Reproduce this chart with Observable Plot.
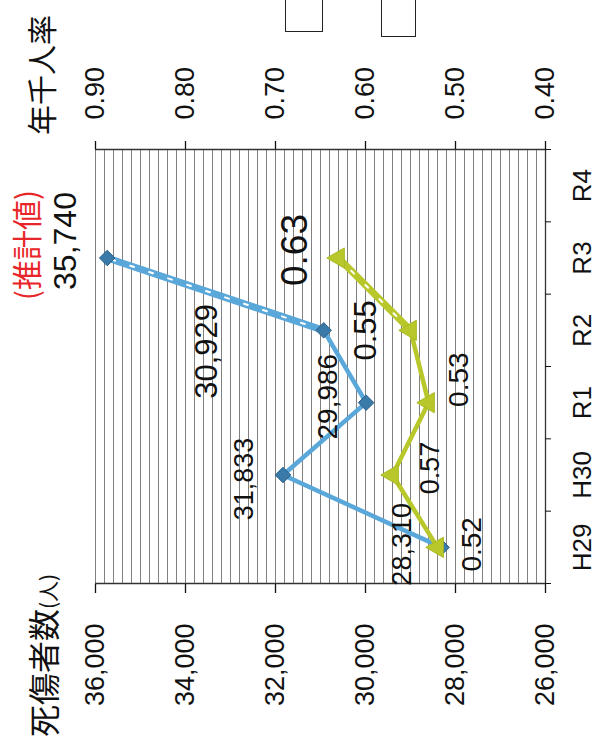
<!DOCTYPE html>
<html><head><meta charset="utf-8">
<script src="https://cdn.jsdelivr.net/npm/d3@7"></script>
<script src="https://cdn.jsdelivr.net/npm/@observablehq/plot@0.6"></script>
<style>
html,body{margin:0;padding:0;background:#fff;overflow:hidden;width:598px;height:742px;}
#rot{position:absolute;left:0;top:742px;width:742px;height:598px;transform-origin:0 0;transform:rotate(-90deg);overflow:hidden;background:#fff;}
#chart{position:absolute;left:0;top:0;}
.ttl{position:absolute;font-family:"Noto Sans CJK JP";color:#111;white-space:nowrap;line-height:1;}
.box{position:absolute;border:1.5px solid #222;background:#fff;}
</style></head><body>
<div id="rot">
  <div id="chart"></div>
  <div class="ttl" style="left:5px;top:26px;font-size:32px;">死傷者数<span style="font-size:21px">(人)</span></div>
  <div class="ttl" style="left:607px;top:25px;font-size:30px;">年千人率</div>
  <div class="box" style="left:710px;top:285px;width:60px;height:36px;"></div>
  <div class="box" style="left:705px;top:381px;width:60px;height:33px;"></div>
</div>
<script>
const categories = ["H29", "H30", "R1", "R2", "R3", "R4"];
const casualties = [28310, 31833, 29986, 30929, 35740];
const rates = [0.52, 0.57, 0.53, 0.55, 0.63];
const countTicks = [26000, 28000, 30000, 32000, 34000, 36000];
const rateTicks = [0.40, 0.50, 0.60, 0.70, 0.80, 0.90];
const estimateNote = "(推計値)";

const BLUE = "#5aa7da";
const BLUE_DARK = "#3a7aa8";
const GREEN = "#b8c82a";
const FONT = "Liberation Sans, Arial, sans-serif";

// secondary axis mapping (rate -> casualty scale)
const rMin = 0.40, rMax = 0.90, cMin = 26000, cMax = 36000;
const toY = r => cMin + (r - rMin) * (cMax - cMin) / (rMax - rMin);
const fromY = v => rMin + (v - cMin) * (rMax - rMin) / (cMax - cMin);

const countData = casualties.map((v, i) => ({i, v, label: d3.format(",")(v)}));
const rateData = rates.map((r, i) => ({i, v: toY(r), label: r.toFixed(2)}));

const gridVals = d3.range(cMin, cMax + 1, 200);

function lab(data, i, dx, dy, fontSize, extra = {}) {
  return Plot.text([data[i]], {x: "i", y: "v", text: "label", dx, dy, fontSize, fill: "#111", fontFamily: FONT, ...extra});
}

const chart = Plot.plot({
  width: 742,
  height: 598,
  marginLeft: 158,
  marginRight: 150,
  marginTop: 95,
  marginBottom: 53,
  style: {fontFamily: FONT, color: "#111", background: "#fff"},
  x: {domain: [-0.5, 5.5]},
  y: {domain: [cMin, cMax]},
  marks: [
    Plot.ruleY(gridVals, {stroke: "#727272", strokeWidth: 0.9}),
    Plot.ruleX([-0.5, 5.5], {stroke: "#333", strokeWidth: 1.3}),
    Plot.ruleY([cMin], {stroke: "#333", strokeWidth: 1.3}),
    Plot.axisY(countTicks, {anchor: "left", tickSize: 9, tickPadding: 31, tickFormat: d3.format(","), fontSize: 27, label: null, strokeWidth: 1.3}),
    Plot.axisY(rateTicks.map(toY), {anchor: "right", tickSize: 8, tickPadding: 22, tickFormat: v => fromY(v).toFixed(2), fontSize: 27, label: null, strokeWidth: 1.3}),
    Plot.axisX(d3.range(-0.5, 6, 1), {anchor: "bottom", tickSize: 6, tickFormat: () => "", label: null}),
    Plot.axisX(d3.range(0, 6), {anchor: "bottom", tickSize: 0, tickPadding: 27, tickFormat: i => categories[i], fontSize: 26, label: null}),
    // casualties line
    Plot.line(countData.slice(0, 4), {x: "i", y: "v", stroke: BLUE, strokeWidth: 4.5}),
    Plot.line(countData.slice(3, 5), {x: "i", y: "v", stroke: BLUE, strokeWidth: 7}),
    Plot.line(countData.slice(3, 5), {x: "i", y: "v", stroke: "#fff", strokeWidth: 2, strokeDasharray: "4,16"}),
    // rate line
    Plot.line(rateData.slice(0, 4), {x: "i", y: "v", stroke: GREEN, strokeWidth: 4.5}),
    Plot.line(rateData.slice(3, 5), {x: "i", y: "v", stroke: GREEN, strokeWidth: 7}),
    Plot.line(rateData.slice(3, 5), {x: "i", y: "v", stroke: "#fff", strokeWidth: 2, strokeDasharray: "4,16"}),
    Plot.dot(countData, {x: "i", y: "v", symbol: "diamond2", r: 7, fill: BLUE_DARK, stroke: "#2c6088", strokeWidth: 1}),
    Plot.dot(rateData, {x: "i", y: "v", symbol: "triangle", r: 7.5, fill: GREEN, stroke: "#a9b820", strokeWidth: 1}),
    // data labels
    lab(countData, 0, 3, -39, 27),
    lab(countData, 1, -4, -39, 27),
    lab(countData, 2, 6, -38, 28),
    lab(countData, 3, -21, -117, 31),
    lab(countData, 4, 17, -41, 32),
    Plot.text([countData[4]], {x: "i", y: "v", text: () => estimateNote, dx: 13, dy: -79, fontSize: 30, fill: "#e8262a", fontFamily: "Noto Sans CJK JP"}),
    lab(rateData, 0, 3, 35, 28),
    lab(rateData, 1, 7, 38, 27),
    lab(rateData, 2, 23, 31, 28),
    lab(rateData, 3, 0, -44, 31),
    lab(rateData, 4, 8, -43, 37)
  ]
});
document.getElementById("chart").appendChild(chart);
</script>
</body></html>
